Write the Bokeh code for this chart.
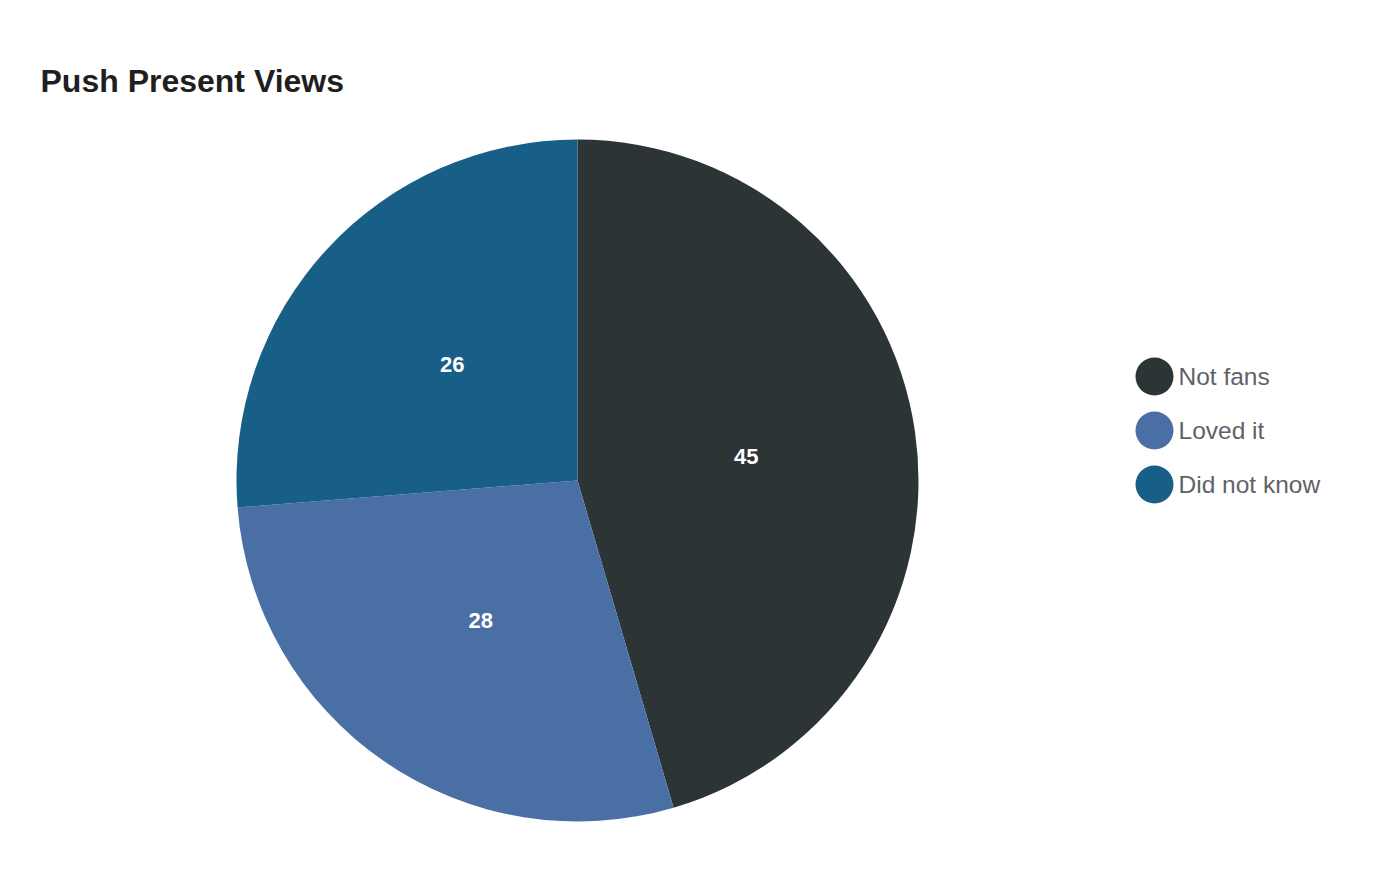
import math
from bokeh.plotting import figure
from bokeh.models import Range1d, ColumnDataSource, Label
from bokeh.core.properties import value
from bokeh.embed import file_html
from bokeh.resources import INLINE

categories = ["Not fans", "Loved it", "Did not know"]
counts = [45, 28, 26]
colors = ["#2d3436", "#4a6fa5", "#175f87"]
title_text = "Push Present Views"

# page coords: data x = screen x, data y = 880 - screen y
p = figure(width=1384, height=864, output_backend="svg", toolbar_location=None,
           x_range=Range1d(0, 1384), y_range=Range1d(16, 880),
           min_border=0, outline_line_color=None)
p.axis.visible = False
p.grid.visible = False
p.background_fill_color = "white"
p.border_fill_color = "white"

cx, cy, R = 577, 400, 341
total = sum(counts)
starts, ends, lx, ly = [], [], [], []
cum = 0.0
for c in counts:
    a0 = math.pi / 2 - 2 * math.pi * cum / total
    cum += c
    a1 = math.pi / 2 - 2 * math.pi * cum / total
    starts.append(a0)
    ends.append(a1)
    mid = (a0 + a1) / 2
    lx.append(cx + 0.5 * R * math.cos(mid))
    ly.append(cy + 0.5 * R * math.sin(mid))

src = ColumnDataSource(dict(start=starts, end=ends, color=colors,
                            lx=lx, ly=ly, txt=[str(c) for c in counts]))
p.wedge(x=cx, y=cy, radius=R, start_angle="start", end_angle="end",
        direction="clock", fill_color="color", line_color=None, source=src)
p.text(x="lx", y="ly", text="txt", source=src, text_color="white",
       text_font=value("Liberation Sans"), text_font_style="bold",
       text_font_size="22px", text_align="center", text_baseline="middle")

# legend
leg_y = [880 - 376 - 54 * i for i in range(len(categories))]
leg = ColumnDataSource(dict(x=[1154] * 3, y=leg_y, color=colors,
                            tx=[1178] * 3, label=categories))
p.scatter(x="x", y="y", size=38, marker="circle", fill_color="color",
          line_color=None, source=leg)
p.text(x="tx", y="y", text="label", source=leg, text_color="#5f6368",
       text_font=value("Liberation Sans"), text_font_size="24.5px",
       text_baseline="middle")

p.add_layout(Label(x=40, y=880 - 80, text=title_text, text_font="Liberation Sans",
                   text_font_style="bold", text_font_size="32px",
                   text_color="#1f1f1f", text_baseline="middle"))

open("out.html", "w").write(file_html(p, INLINE))
